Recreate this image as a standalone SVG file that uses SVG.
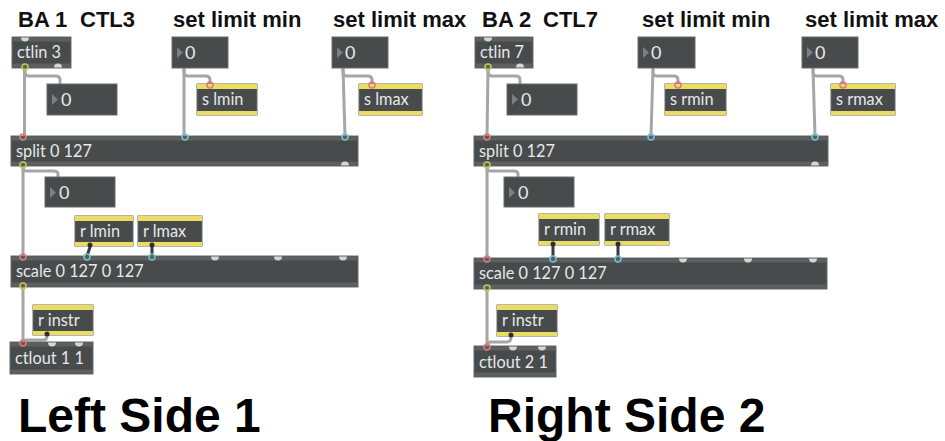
<svg xmlns="http://www.w3.org/2000/svg" width="945" height="441" viewBox="0 0 945 441">
<style>
.bg{fill:#ffffff}
.body{fill:#474b4c;stroke:#686c6d;stroke-width:1}
.strip{fill:#5c6061}
.num{fill:#474b4c;stroke:#686c6d;stroke-width:1}
.yel{fill:#ebdc62}
.tri{fill:#7c8081}
.t{font-family:Lato,"Liberation Sans",sans-serif;font-size:16.3px;fill:#e8e8e8}
.n{font-family:Lato,"Liberation Sans",sans-serif;font-size:18px;fill:#e8e8e8}
.h{font-family:"Liberation Sans",Arial,sans-serif;font-weight:bold;font-size:22px;fill:#111111}
.big{font-family:"Liberation Sans",Arial,sans-serif;font-weight:bold;font-size:48px;fill:#000000}
.cord{stroke:#a6a6a6;stroke-width:3;fill:none;stroke-linecap:round}
.dcord{stroke:#3a3a3a;stroke-width:3;fill:none;stroke-linecap:round}
.pr{fill:none;stroke:#e07a7a;stroke-width:1.5}
.pb{fill:none;stroke:#72c2d4;stroke-width:1.5}
.py{fill:none;stroke:#c8c455;stroke-width:1.5}
.bump{fill:#d6d6d6}
.dot{fill:#2e2e2e}
</style>
<rect class="bg" x="0" y="0" width="945" height="441"/>

<g id="headers">
<text class="h" x="18" y="27">BA 1</text>
<text class="h" x="80" y="27">CTL3</text>
<text class="h" x="173" y="27">set limit min</text>
<text class="h" x="333" y="27">set limit max</text>
<text class="h" x="482" y="27">BA 2</text>
<text class="h" x="543" y="27">CTL7</text>
<text class="h" x="642" y="27">set limit min</text>
<text class="h" x="805" y="27">set limit max</text>
</g>
<g id="titles">
<text class="big" x="18" y="432">Left Side 1</text>
<text class="big" x="488" y="432">Right Side 2</text>
</g>

<g id="connectors">
<!-- left -->
<path class="cord" d="M24.5,69 V136"/>
<path class="cord" d="M25,69 V72 Q25,76 29,76 H56 Q60,76 60,80 V84"/>
<path class="cord" d="M184,69 V136"/>
<path class="cord" d="M184,69 V72 Q184,76 188,76 H206 Q210,76 210,80 V84"/>
<path class="cord" d="M343,69 L345,136"/>
<path class="cord" d="M343,69 V72 Q343,76 347,76 H368 Q372,76 372,80 V84"/>
<path class="cord" d="M23,167 V256"/>
<path class="cord" d="M23,167 V168 Q23,171 27,171 H54 Q58,171 58,174 V177"/>
<path class="dcord" d="M90,247 L87,256"/>
<path class="dcord" d="M152,247 V256"/>
<path class="cord" d="M23,288 V342"/>
<path class="cord" d="M47,336 Q47,340 43,340 H26 Q23,340 23,342"/>
<!-- right -->
<path class="cord" d="M488,69 L487,136"/>
<path class="cord" d="M488,69 V72 Q488,76 492,76 H516 Q520,76 520,80 V84"/>
<path class="cord" d="M653,69 L651,136"/>
<path class="cord" d="M653,69 V72 Q653,76 657,76 H674 Q678,76 678,80 V84"/>
<path class="cord" d="M813,69 L815,136"/>
<path class="cord" d="M813,69 V72 Q813,76 817,76 H839 Q843,76 843,80 V84"/>
<path class="cord" d="M487,167 V258"/>
<path class="cord" d="M487,167 V168 Q487,171 491,171 H514 Q518,171 518,174 V177"/>
<path class="dcord" d="M553,246 V258"/>
<path class="dcord" d="M618,246 V258"/>
<path class="cord" d="M487,290 V346"/>
<path class="cord" d="M511,337 Q511,342 507,342 H490 Q487,342 487,346"/>
</g>

<!-- LEFT SIDE NODES -->
<g id="ctlin3">
<rect class="body" x="12" y="37" width="59" height="31"/>
<rect class="strip" x="12.5" y="37.5" width="58" height="4"/>
<rect class="strip" x="12.5" y="63.5" width="58" height="4"/>
<text class="t" x="17" y="58">ctlin 3</text>
<path class="bump" d="M21,37.5 A4,4 0 0 0 29,37.5 Z"/>
<path class="bump" d="M54,67.5 A4,4 0 0 1 62,67.5 Z"/>
<circle class="py" cx="25" cy="67" r="3"/>
</g>
<g id="num1">
<rect class="num" x="47" y="84" width="70" height="31"/>
<path class="tri" d="M52,94 L58,99.5 L52,105 Z"/>
<text class="n" x="61" y="106">0</text>
</g>
<g id="setmin-l">
<rect class="num" x="172" y="37" width="56" height="31"/>
<path class="tri" d="M177,47 L183,52.5 L177,58 Z"/>
<text class="n" x="185" y="59">0</text>
</g>
<g id="slmin">
<rect class="body" x="197" y="84" width="60" height="31"/>
<rect class="yel" x="197" y="84" width="60" height="5"/>
<rect class="yel" x="197" y="111" width="60" height="4"/>
<text class="t" x="202" y="105">s lmin</text>
<circle class="pr" cx="210" cy="85" r="3"/>
</g>
<g id="setmax-l">
<rect class="num" x="332" y="37" width="56" height="31"/>
<path class="tri" d="M337,47 L343,52.5 L337,58 Z"/>
<text class="n" x="345" y="59">0</text>
</g>
<g id="slmax">
<rect class="body" x="359" y="84" width="63" height="31"/>
<rect class="yel" x="359" y="84" width="63" height="5"/>
<rect class="yel" x="359" y="111" width="63" height="4"/>
<text class="t" x="364" y="105">s lmax</text>
<circle class="pr" cx="372" cy="85" r="3"/>
</g>
<g id="split-l">
<rect class="body" x="11" y="136" width="347" height="30"/>
<rect class="strip" x="11.5" y="136.5" width="346" height="4"/>
<rect class="strip" x="11.5" y="161.5" width="346" height="4"/>
<text class="t" x="16" y="157">split 0 127</text>
<circle class="pr" cx="23" cy="137" r="3"/>
<circle class="pb" cx="185" cy="137" r="3"/>
<circle class="pb" cx="345" cy="137" r="3"/>
<circle class="py" cx="23" cy="165" r="3"/>
<path class="bump" d="M341,165.5 A4,4 0 0 1 349,165.5 Z"/>
</g>
<g id="num2">
<rect class="num" x="45" y="177" width="70" height="30"/>
<path class="tri" d="M50,187 L56,192.5 L50,198 Z"/>
<text class="n" x="59" y="199">0</text>
</g>
<g id="rlmin">
<rect class="body" x="75" y="216" width="58" height="30"/>
<rect class="yel" x="75" y="216" width="58" height="5"/>
<rect class="yel" x="75" y="242" width="58" height="4"/>
<text class="t" x="80" y="237">r lmin</text>
<circle class="dot" cx="90" cy="245" r="2.5"/>
</g>
<g id="rlmax">
<rect class="body" x="138" y="216" width="64" height="30"/>
<rect class="yel" x="138" y="216" width="64" height="5"/>
<rect class="yel" x="138" y="242" width="64" height="4"/>
<text class="t" x="143" y="237">r lmax</text>
<circle class="dot" cx="152" cy="245" r="2.5"/>
</g>
<g id="scale-l">
<rect class="body" x="11" y="256" width="347" height="31"/>
<rect class="strip" x="11.5" y="256.5" width="346" height="4"/>
<rect class="strip" x="11.5" y="282.5" width="346" height="4"/>
<text class="t" x="16" y="277">scale 0 127 0 127</text>
<circle class="pr" cx="23" cy="257" r="3"/>
<circle class="pb" cx="87" cy="257" r="3"/>
<circle class="pb" cx="152" cy="257" r="3"/>
<path class="bump" d="M211,256.5 A4,4 0 0 0 219,256.5 Z"/>
<path class="bump" d="M274,256.5 A4,4 0 0 0 282,256.5 Z"/>
<path class="bump" d="M339,256.5 A4,4 0 0 0 347,256.5 Z"/>
<circle class="py" cx="23" cy="286" r="3"/>
</g>
<g id="rinstr-l">
<rect class="body" x="33" y="305" width="60" height="30"/>
<rect class="yel" x="33" y="305" width="60" height="5"/>
<rect class="yel" x="33" y="331" width="60" height="4"/>
<text class="t" x="38" y="326">r instr</text>
<circle class="dot" cx="47" cy="334" r="2.5"/>
</g>
<g id="ctlout11">
<rect class="body" x="10" y="342" width="83" height="32"/>
<rect class="strip" x="10.5" y="342.5" width="82" height="4"/>
<rect class="strip" x="10.5" y="369.5" width="82" height="4"/>
<text class="t" x="15" y="364">ctlout 1 1</text>
<circle class="pr" cx="23" cy="343" r="3"/>
<path class="bump" d="M48,342.5 A4,4 0 0 0 56,342.5 Z"/>
<path class="bump" d="M75,342.5 A4,4 0 0 0 83,342.5 Z"/>
</g>

<!-- RIGHT SIDE NODES -->
<g id="ctlin7">
<rect class="body" x="475" y="37" width="58" height="31"/>
<rect class="strip" x="475.5" y="37.5" width="57" height="4"/>
<rect class="strip" x="475.5" y="63.5" width="57" height="4"/>
<text class="t" x="480" y="58">ctlin 7</text>
<path class="bump" d="M484,37.5 A4,4 0 0 0 492,37.5 Z"/>
<path class="bump" d="M516,67.5 A4,4 0 0 1 524,67.5 Z"/>
<circle class="py" cx="488" cy="67" r="3"/>
</g>
<g id="num3">
<rect class="num" x="507" y="84" width="70" height="31"/>
<path class="tri" d="M512,94 L518,99.5 L512,105 Z"/>
<text class="n" x="521" y="106">0</text>
</g>
<g id="setmin-r">
<rect class="num" x="638" y="37" width="57" height="31"/>
<path class="tri" d="M643,47 L649,52.5 L643,58 Z"/>
<text class="n" x="651" y="59">0</text>
</g>
<g id="srmin">
<rect class="body" x="665" y="84" width="61" height="31"/>
<rect class="yel" x="665" y="84" width="61" height="5"/>
<rect class="yel" x="665" y="111" width="61" height="4"/>
<text class="t" x="670" y="105">s rmin</text>
<circle class="pr" cx="678" cy="85" r="3"/>
</g>
<g id="setmax-r">
<rect class="num" x="802" y="37" width="56" height="31"/>
<path class="tri" d="M807,47 L813,52.5 L807,58 Z"/>
<text class="n" x="815" y="59">0</text>
</g>
<g id="srmax">
<rect class="body" x="831" y="84" width="64" height="31"/>
<rect class="yel" x="831" y="84" width="64" height="5"/>
<rect class="yel" x="831" y="111" width="64" height="4"/>
<text class="t" x="836" y="105">s rmax</text>
<circle class="pr" cx="843" cy="85" r="3"/>
</g>
<g id="split-r">
<rect class="body" x="474" y="136" width="354" height="30"/>
<rect class="strip" x="474.5" y="136.5" width="353" height="4"/>
<rect class="strip" x="474.5" y="161.5" width="353" height="4"/>
<text class="t" x="479" y="157">split 0 127</text>
<circle class="pr" cx="487" cy="137" r="3"/>
<circle class="pb" cx="651" cy="137" r="3"/>
<circle class="pb" cx="815" cy="137" r="3"/>
<circle class="py" cx="487" cy="165" r="3"/>
<path class="bump" d="M811,165.5 A4,4 0 0 1 819,165.5 Z"/>
</g>
<g id="num4">
<rect class="num" x="504" y="177" width="70" height="30"/>
<path class="tri" d="M509,187 L515,192.5 L509,198 Z"/>
<text class="n" x="518" y="199">0</text>
</g>
<g id="rrmin">
<rect class="body" x="539" y="214" width="60" height="31"/>
<rect class="yel" x="539" y="214" width="60" height="5"/>
<rect class="yel" x="539" y="241" width="60" height="4"/>
<text class="t" x="544" y="235">r rmin</text>
<circle class="dot" cx="553" cy="244" r="2.5"/>
</g>
<g id="rrmax">
<rect class="body" x="605" y="214" width="64" height="31"/>
<rect class="yel" x="605" y="214" width="64" height="5"/>
<rect class="yel" x="605" y="241" width="64" height="4"/>
<text class="t" x="610" y="235">r rmax</text>
<circle class="dot" cx="618" cy="244" r="2.5"/>
</g>
<g id="scale-r">
<rect class="body" x="474" y="258" width="353" height="31"/>
<rect class="strip" x="474.5" y="258.5" width="352" height="4"/>
<rect class="strip" x="474.5" y="284.5" width="352" height="4"/>
<text class="t" x="479" y="279">scale 0 127 0 127</text>
<circle class="pr" cx="487" cy="259" r="3"/>
<circle class="pb" cx="553" cy="259" r="3"/>
<circle class="pb" cx="618" cy="259" r="3"/>
<path class="bump" d="M679,258.5 A4,4 0 0 0 687,258.5 Z"/>
<path class="bump" d="M744,258.5 A4,4 0 0 0 752,258.5 Z"/>
<path class="bump" d="M809,258.5 A4,4 0 0 0 817,258.5 Z"/>
<circle class="py" cx="487" cy="288" r="3"/>
</g>
<g id="rinstr-r">
<rect class="body" x="497" y="305" width="60" height="31"/>
<rect class="yel" x="497" y="305" width="60" height="5"/>
<rect class="yel" x="497" y="332" width="60" height="4"/>
<text class="t" x="502" y="326">r instr</text>
<circle class="dot" cx="511" cy="335" r="2.5"/>
</g>
<g id="ctlout21">
<rect class="body" x="474" y="346" width="82" height="31"/>
<rect class="strip" x="474.5" y="346.5" width="81" height="4"/>
<rect class="strip" x="474.5" y="372.5" width="81" height="4"/>
<text class="t" x="479" y="368">ctlout 2 1</text>
<circle class="pr" cx="487" cy="347" r="3"/>
<path class="bump" d="M509,346.5 A4,4 0 0 0 517,346.5 Z"/>
<path class="bump" d="M538,346.5 A4,4 0 0 0 546,346.5 Z"/>
</g>
</svg>
